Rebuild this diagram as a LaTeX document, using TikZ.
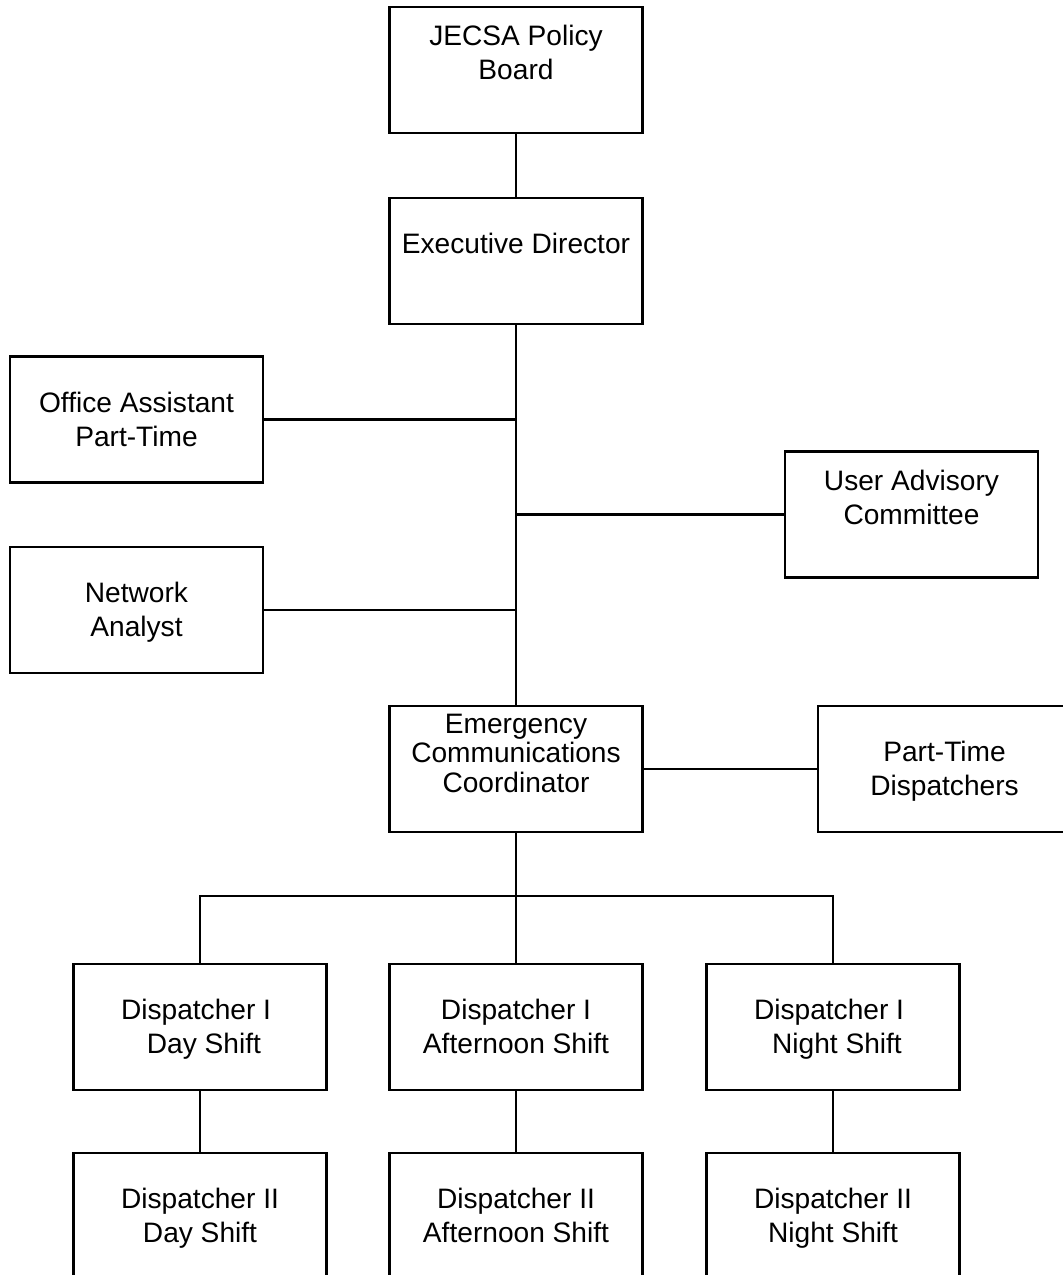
\documentclass[tikz,border=0pt]{standalone}
\usepackage{fontspec}
\setmainfont{Liberation Sans}
\usetikzlibrary{positioning,calc}
% taller strut for the first row of a box
\newcommand{\toprow}[1][21pt]{\rule{0pt}{#1}}

\begin{document}
\begin{tikzpicture}[
			x=0.025cm, y=-0.025cm,
			line width=1.6pt,
			box/.style = {draw, rectangle, minimum width=6.325cm, minimum height=3.15cm,
				align=center, inner sep=0pt, font=\fontsize{20}{24}\selectfont},
			tight/.style = {font=\fontsize{20}{20.5}\selectfont},
			]
			\useasboundingbox (0,0) rectangle (1063,1275);
			\clip (0,0) rectangle (1063,1275);
			% top of the chart
			\node[box] (board) at (516,70) {\toprow JECSA Policy\\\strut Board\\\strut};
			\node[box] (exec) at (516,261) {\toprow Executive Director\\\strut};
			% staff
			\node[box] (office) at (136.5,419.5) {\toprow Office Assistant\\\strut Part-Time};
			\node[box] (user) at (911.5,514.5) {\toprow User Advisory\\\strut Committee\\\strut};
			\node[box] (netw) at (136.5,610) {\toprow Network\\\strut Analyst};
			% coordinator
			\node[box,tight] (ecc) at (516,769) {\toprow[18.6pt]Emergency\\\strut Communications\\\strut Coordinator\\\strut};
			\node[box] (ptd) at (944.5,769) {\toprow Part-Time\\\strut Dispatchers};
			% dispatchers
			\node[box] (dOneDay) at (200,1027) {\toprow Dispatcher I\hspace*{5.6pt}\strut\\\strut\hspace*{5.6pt}Day Shift};
			\node[box] (dOneAft) at (516,1027) {\toprow Dispatcher I\\\strut Afternoon Shift};
			\node[box] (dOneNight) at (833,1027) {\toprow Dispatcher I\hspace*{5.6pt}\strut\\\strut\hspace*{5.6pt}Night Shift};
			\node[box] (dTwoDay) at (200,1216) {\toprow Dispatcher II\\\strut Day Shift};
			\node[box] (dTwoAft) at (516,1216) {\toprow Dispatcher II\\\strut Afternoon Shift};
			\node[box] (dTwoNight) at (833,1216) {\toprow Dispatcher II\\\strut Night Shift};
			\coordinate (bus) at (516,896);
			% edges
			\draw (board) -- (exec);
			\draw (exec) -- (ecc);
			\draw (office.east) -- (office.east -| exec);
			\draw (netw.east) -- (netw.east -| exec);
			\draw (user.west) -- (user.west -| exec);
			\draw (ecc) -- (ptd);
			\draw (ecc) -- (bus);
			\draw (dOneDay.north) |- (bus) -| (dOneNight.north);
			\draw (bus) -- (dOneAft);
			\draw (dOneDay) -- (dTwoDay);
			\draw (dOneAft) -- (dTwoAft);
			\draw (dOneNight) -- (dTwoNight);
		\end{tikzpicture}
\end{document}
